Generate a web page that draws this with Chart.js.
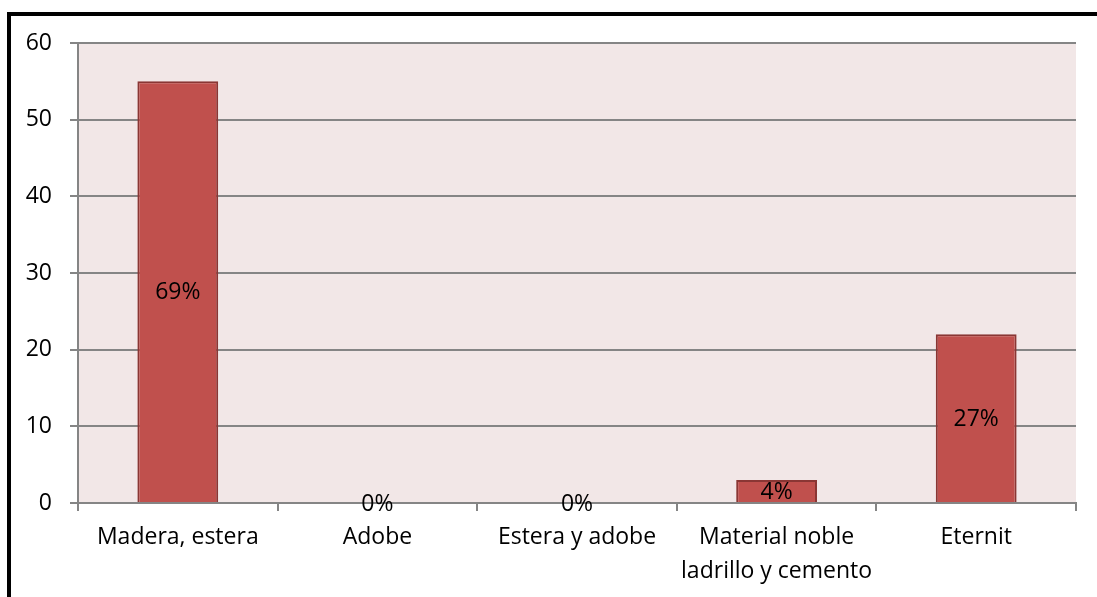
<!DOCTYPE html>
<html>
<head>
<meta charset="utf-8">
<script src="https://cdn.jsdelivr.net/npm/chart.js@4"></script>
<style>
  body { margin: 0; background: #fff; }
  #wrap { position: relative; width: 1097px; height: 597px; overflow: hidden; }
  #frame { position: absolute; left: 7px; top: 12px; width: 1200px; height: 700px; border: 4px solid #000; pointer-events: none; }
</style>
</head>
<body>
<div id="wrap">
  <canvas id="barChart" width="1097" height="597"></canvas>
  <div id="frame"></div>
</div>
<script>
const categories = ['Madera, estera', 'Adobe', 'Estera y adobe', ['Material noble', 'ladrillo y cemento'], 'Eternit'];
const counts = [55, 0, 0, 3, 22];
const percentLabels = ['69%', '0%', '0%', '4%', '27%'];
const yTicks = [0, 10, 20, 30, 40, 50, 60];

const FONT = "'Open Sans', 'Noto Sans', sans-serif";

// plot area background
const plotBackground = {
    id: 'plotBackground',
    beforeDraw(chart) {
        const { ctx, chartArea } = chart;
        ctx.save();
        ctx.fillStyle = '#F2E7E7';
        ctx.fillRect(chartArea.left, chartArea.top, chartArea.right - chartArea.left, chartArea.bottom - chartArea.top);
        ctx.restore();
    }
};

// percent labels in the middle of each bar
const barLabels = {
    id: 'barLabels',
    afterDatasetsDraw(chart) {
        const { ctx } = chart;
        const meta = chart.getDatasetMeta(0);
        ctx.save();
        ctx.font = '23px ' + FONT;
        ctx.fillStyle = '#000';
        ctx.textAlign = 'center';
        ctx.textBaseline = 'middle';
        meta.data.forEach((bar, i) => {
            const y = (bar.y + bar.base) / 2;
            ctx.fillText(percentLabels[i], bar.x, y + 1);
        });
        ctx.restore();
    }
};

const ctx = document.getElementById('barChart').getContext('2d');
new Chart(ctx, {
    type: 'bar',
    data: {
        labels: categories,
        datasets: [{
            data: counts,
            backgroundColor: '#C0504D',
            borderColor: '#8A3634',
            borderWidth: 2,
            categoryPercentage: 1,
            barPercentage: 0.405
        }]
    },
    options: {
        responsive: false,
        animation: false,
        events: [],
        layout: { padding: { top: 43, right: 21, left: 0, bottom: 0 } },
        plugins: {
            legend: { display: false },
            tooltip: { enabled: false }
        },
        scales: {
            x: {
                grid: {
                    offset: true,
                    drawOnChartArea: false,
                    drawTicks: true,
                    tickLength: 8,
                    color: '#858585',
                    lineWidth: 2
                },
                border: { display: true, color: '#858585', width: 2 },
                ticks: {
                    color: '#000',
                    padding: 10,
                    maxRotation: 0,
                    autoSkip: false,
                    font: { family: FONT, size: 23, lineHeight: 1.45 }
                },
                afterFit(scale) { scale.height = 94; }
            },
            y: {
                min: 0,
                max: 60,
                afterBuildTicks(scale) { scale.ticks = yTicks.map(v => ({ value: v })); },
                grid: {
                    color: '#858585',
                    lineWidth: 2,
                    tickLength: 8
                },
                border: { display: true, color: '#858585', width: 2 },
                ticks: {
                    color: '#000',
                    padding: 18,
                    font: { family: FONT, size: 23 }
                },
                afterFit(scale) { scale.width = 78; }
            }
        }
    },
    plugins: [plotBackground, barLabels]
});
</script>
</body>
</html>
